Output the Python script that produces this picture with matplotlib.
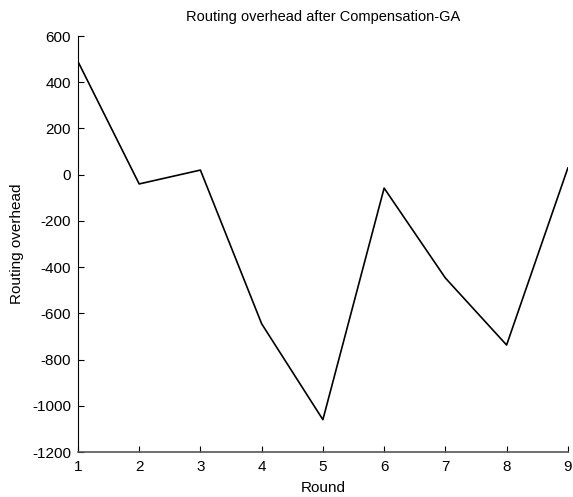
import matplotlib
matplotlib.use("Agg")
import matplotlib.pyplot as plt

rounds = [1, 2, 3, 4, 5, 6, 7, 8, 9]
overhead = [490, -40, 20, -645, -1060, -58, -447, -737, 29]

plt.rcParams['font.family'] = ['Liberation Sans', 'DejaVu Sans']
plt.rcParams['font.size'] = 11
plt.rcParams['axes.unicode_minus'] = False

fig = plt.figure(figsize=(5.73, 4.97), dpi=100)
ax = fig.add_axes([0.136, 0.0905, 0.855, 0.837])
ax.plot(rounds, overhead, color='black', linewidth=1.2)

ax.set_xlim(1, 9)
ax.set_ylim(-1200, 600)
ax.set_xticks(rounds)
ax.set_yticks(range(-1200, 601, 200))
ax.spines['top'].set_visible(False)
ax.spines['right'].set_visible(False)
ax.spines['left'].set_color('black')
ax.spines['bottom'].set_color('#555555')
ax.spines['bottom'].set_linewidth(1.2)
ax.tick_params(direction='in', length=4, width=0.8)
ax.tick_params(axis='x', pad=6)
ax.tick_params(axis='y', pad=5)

ax.set_title('Routing overhead after Compensation-GA', fontsize=10.5, pad=11)
ax.set_xlabel('Round', labelpad=5)
ax.set_ylabel('Routing overhead', labelpad=6)

fig.savefig('out.png', dpi=100)
